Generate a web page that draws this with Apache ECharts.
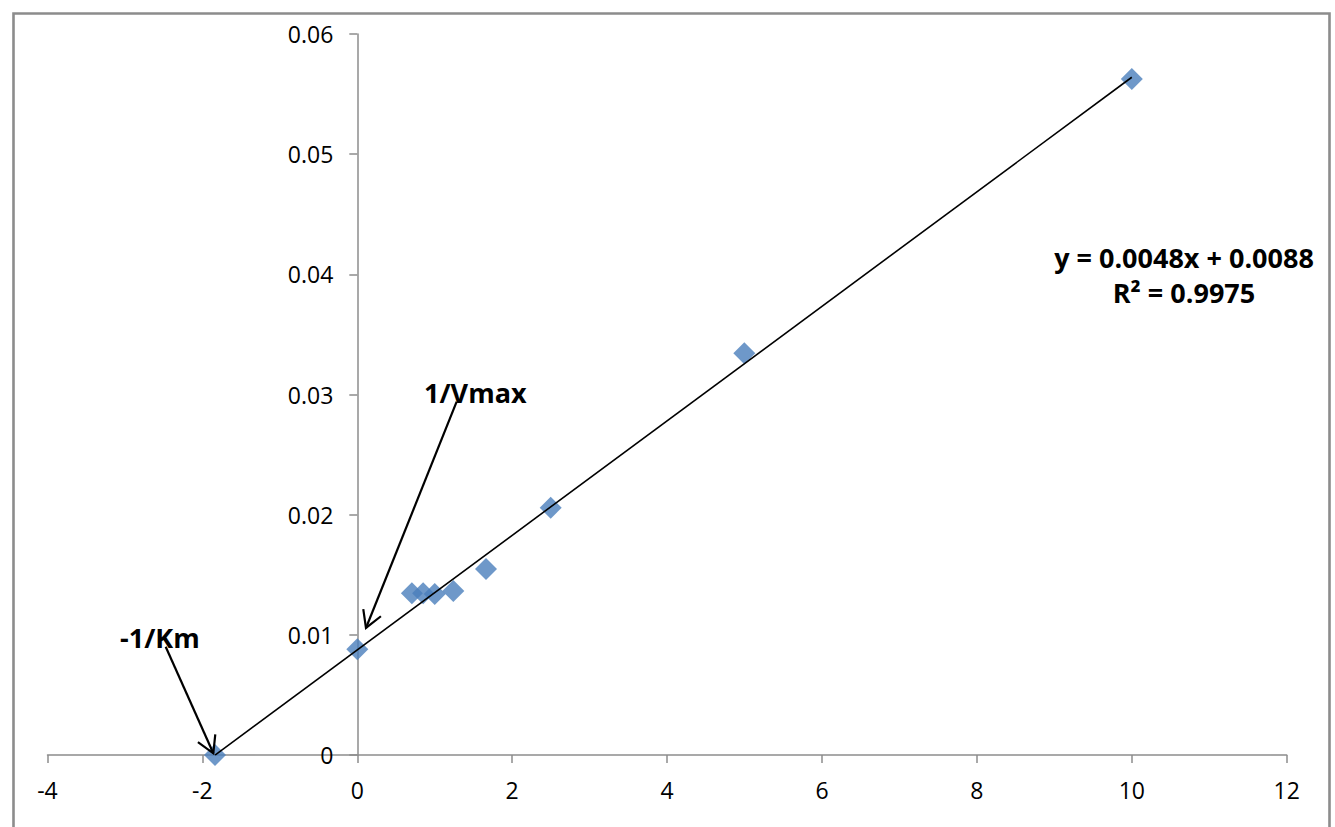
<!DOCTYPE html>
<html>
<head>
<meta charset="utf-8">
<script src="https://cdn.jsdelivr.net/npm/echarts@6/dist/echarts.min.js"></script>
<style>html,body{margin:0;padding:0;background:#fff}#c{width:1335px;height:827px}</style>
</head>
<body>
<div id="c"></div>
<script>
// Data points (1/[S], 1/v)
const xValues = [-1.837, 0, 0.705, 0.85, 1.0, 1.24, 1.662, 2.497, 4.997, 10];
const yValues = [0, 0.0088, 0.013456, 0.013456, 0.0134, 0.01365, 0.01548, 0.02058, 0.03343, 0.05625];

// Trendline (as drawn): y = slope*x + intercept, from xmin to xmax of data
const trendSlope = 0.004765;
const trendIntercept = 0.00875;
const trendRange = [-1.837, 10];

// Tick labels / axis ranges
const xTicks = [-4, -2, 0, 2, 4, 6, 8, 10, 12];
const yTicks = [0, 0.01, 0.02, 0.03, 0.04, 0.05, 0.06];

// Annotation arrows: [fromX, fromY, toX, toY] in data units
const arrowLabels = ['1/Vmax', '-1/Km'];
const arrowFrom = [[1.283, 0.0294], [-2.474, 0.00901]];
const arrowTo = [[0.112, 0.01057], [-1.859, 0.00014]];

const eqLine1 = 'y = 0.0048x + 0.0088';
const eqLine2 = 'R² = 0.9975';

const FONT = '"Open Sans", "Liberation Sans", sans-serif';
const chart = echarts.init(document.getElementById('c'), null, {renderer: 'svg'});

const points = xValues.map((x, i) => [x, yValues[i]]);
const trend = trendRange.map(x => [x, trendSlope * x + trendIntercept]);
const arrows = arrowFrom.map((f, i) => [f[0], f[1], arrowTo[i][0], arrowTo[i][1]]);

const gridLeft = 47.5, gridRight = 48.3;
const plotWidth = 1335 - gridLeft - gridRight;
const xMin = xTicks[0], xMax = xTicks[xTicks.length - 1];
// y axis crosses at x = 0: shift it from the grid's left edge to x = 0
const yAxisOffset = -((0 - xMin) / (xMax - xMin)) * plotWidth;

chart.setOption({
  animation: false,
  backgroundColor: '#fff',
  grid: {left: gridLeft, right: gridRight, top: 34, bottom: 72, containLabel: false, outerBoundsMode: 'none'},
  xAxis: {
    type: 'value', min: xMin, max: xMax, interval: 2,
    axisLine: {show: true, onZero: false, lineStyle: {color: '#8c8c8c', width: 1.5}},
    axisTick: {show: true, inside: false, length: 8, lineStyle: {color: '#8c8c8c', width: 1.5}},
    axisLabel: {color: '#000', fontFamily: FONT, fontSize: 23, margin: 23},
    splitLine: {show: false}
  },
  yAxis: {
    type: 'value', min: yTicks[0], max: yTicks[yTicks.length - 1], interval: 0.01,
    position: 'left', offset: yAxisOffset,
    axisLine: {show: true, onZero: false, lineStyle: {color: '#8c8c8c', width: 1.5}},
    axisTick: {show: true, inside: false, length: 8, lineStyle: {color: '#8c8c8c', width: 1.5}},
    axisLabel: {color: '#000', fontFamily: FONT, fontSize: 23, margin: 24,
      formatter: v => (v === 0 ? '0' : v.toFixed(2))},
    splitLine: {show: false}
  },
  graphic: [
    {type: 'rect', left: 11, top: 11, z: -1, shape: {x: 0, y: 0, width: 1316, height: 840},
     style: {fill: 'none', stroke: '#8c8c8c', lineWidth: 2.6}},
    {type: 'text', x: 1184, y: 257.5, z: 10,
     style: {text: eqLine1, fontFamily: FONT, fontWeight: 'bold', fontSize: 27, fill: '#000', align: 'center', verticalAlign: 'middle'}},
    {type: 'text', x: 1184, y: 292.5, z: 10,
     style: {text: eqLine2, fontFamily: FONT, fontWeight: 'bold', fontSize: 27, fill: '#000', align: 'center', verticalAlign: 'middle'}},
    {type: 'text', x: 424, y: 392, z: 10,
     style: {text: arrowLabels[0], fontFamily: FONT, fontWeight: 'bold', fontSize: 27, fill: '#000', align: 'left', verticalAlign: 'middle'}},
    {type: 'text', x: 120, y: 637, z: 10,
     style: {text: arrowLabels[1], fontFamily: FONT, fontWeight: 'bold', fontSize: 27, fill: '#000', align: 'left', verticalAlign: 'middle'}}
  ],
  series: [
    {
      type: 'scatter', data: points, symbol: 'diamond', symbolSize: 22, z: 2,
      itemStyle: {color: '#4a7ebb'}
    },
    {
      type: 'line', data: trend, showSymbol: false, symbol: 'none', z: 3,
      lineStyle: {color: '#000', width: 1.6}
    },
    {
      type: 'custom', z: 4,
      data: arrows,
      renderItem: function (params, api) {
        const p1 = api.coord([api.value(0), api.value(1)]);
        const p2 = api.coord([api.value(2), api.value(3)]);
        const ang = Math.atan2(p2[1] - p1[1], p2[0] - p1[0]);
        const L = 19, spread = Math.PI / 6;
        const w1 = [p2[0] - L * Math.cos(ang - spread), p2[1] - L * Math.sin(ang - spread)];
        const w2 = [p2[0] - L * Math.cos(ang + spread), p2[1] - L * Math.sin(ang + spread)];
        const st = {stroke: '#000', lineWidth: 2.2, fill: 'none'};
        return {
          type: 'group',
          children: [
            {type: 'line', shape: {x1: p1[0], y1: p1[1], x2: p2[0], y2: p2[1]}, style: st},
            {type: 'polyline', shape: {points: [w1, p2, w2]}, style: st}
          ]
        };
      }
    }
  ]
});
</script>
</body>
</html>
